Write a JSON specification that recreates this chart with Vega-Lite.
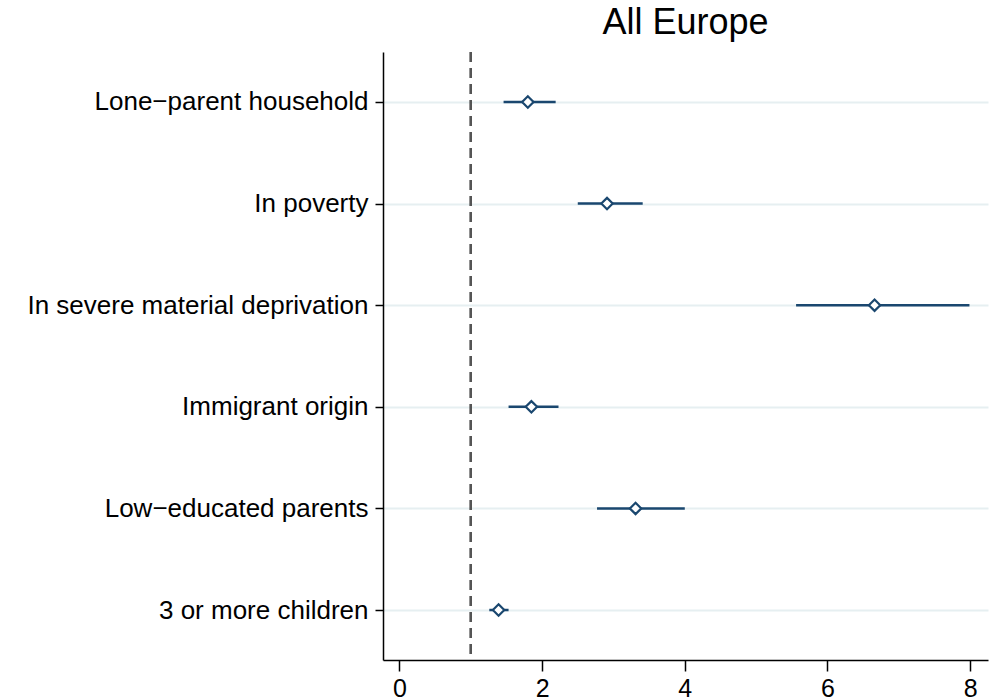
{
  "$schema": "https://vega.github.io/schema/vega-lite/v6.json",
  "autosize": "none",
  "width": 605,
  "height": 608,
  "padding": {"left": 383, "top": 52, "right": 6, "bottom": 40},
  "background": "white",
  "title": {"text": "All Europe", "font": "Liberation Sans", "fontSize": 36, "fontWeight": "normal", "color": "#000000", "anchor": "middle", "frame": "group", "offset": 9},
  "config": {"view": {"stroke": null}},
  "data": {"values": [
    {"label": "Lone\u2212parent household", "est": 1.80, "lo": 1.46, "hi": 2.19},
    {"label": "In poverty", "est": 2.91, "lo": 2.50, "hi": 3.41},
    {"label": "In severe material deprivation", "est": 6.66, "lo": 5.56, "hi": 7.99},
    {"label": "Immigrant origin", "est": 1.85, "lo": 1.53, "hi": 2.23},
    {"label": "Low\u2212educated parents", "est": 3.31, "lo": 2.77, "hi": 4.00},
    {"label": "3 or more children", "est": 1.39, "lo": 1.26, "hi": 1.53}
  ]},
  "encoding": {
    "y": {"field": "label", "type": "nominal", "sort": null, "scale": {"type": "point", "padding": 0.492},
      "axis": {"title": null, "labelFont": "Liberation Sans", "labelFontSize": 26, "labelColor": "#000000", "labelPadding": 7, "tickSize": 8, "tickColor": "#000000", "tickWidth": 1.5, "domainColor": "#000000", "domainWidth": 1.5, "grid": true, "gridColor": "#e6eff1", "gridWidth": 2, "labelLimit": 500}}
  },
  "layer": [
    {"mark": {"type": "rule", "stroke": "#555555", "strokeWidth": 1.8, "strokeDash": [10, 6]},
     "encoding": {"x": {"datum": 1, "type": "quantitative"}, "y": null}},
    {"mark": {"type": "rule", "stroke": "#1a476f", "strokeWidth": 2.5},
     "encoding": {
       "x": {"field": "lo", "type": "quantitative", "scale": {"domain": [-0.23, 8.25], "nice": false, "zero": false},
         "axis": {"title": null, "values": [0, 2, 4, 6, 8], "format": "d", "labelFont": "Liberation Sans", "labelFontSize": 25, "labelColor": "#000000", "labelPadding": 5, "tickSize": 11, "tickColor": "#000000", "tickWidth": 1.5, "domainColor": "#000000", "domainWidth": 1.5, "grid": false, "labelFlush": false}},
       "x2": {"field": "hi"}}},
    {"mark": {"type": "point", "shape": "diamond", "filled": true, "fill": "white", "stroke": "#1a476f", "strokeWidth": 2.2, "size": 130, "opacity": 1},
     "encoding": {"x": {"field": "est", "type": "quantitative"}}}
  ]
}
